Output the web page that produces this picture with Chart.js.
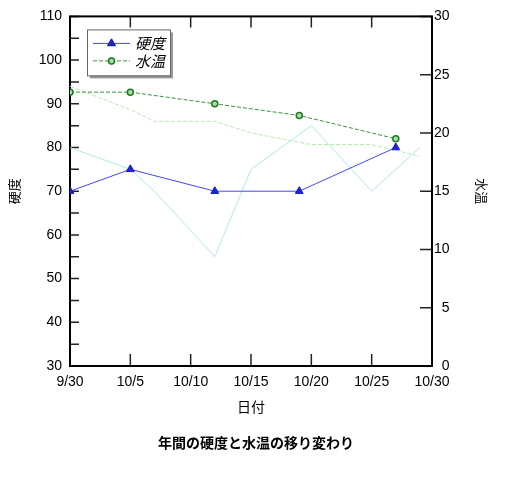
<!DOCTYPE html>
<html>
<head>
<meta charset="utf-8">
<script src="https://cdn.jsdelivr.net/npm/chart.js@4/dist/chart.umd.min.js"></script>
<style>
	body { margin: 0; background: #fff; }
	canvas { display: block; }
</style>
</head>
<body>
<canvas id="chartHardness" width="512" height="477"></canvas>
<script>
// values
var datesMain = ["9/30", "10/5", "10/12", "10/19", "10/27"];
var hardness = [70, 75, 70, 70, 80];
var waterTemp = [23.5, 23.5, 22.5, 21.5, 19.5];

var datesPrev = ["9/30", "10/5", "10/7", "10/12", "10/15", "10/20", "10/25", "10/29"];
var hardnessPrev = [80, 75, 70, 55, 75, 85, 70, 80];
var waterTempPrev = [24, 22, 21, 21, 20, 19, 19, 18];

var xTickLabels = ["9/30", "10/5", "10/10", "10/15", "10/20", "10/25", "10/30"];

var NUM_FONT = "'Liberation Sans', Arial, sans-serif";
var JP_FONT = "'Noto Sans CJK JP', sans-serif";

// days since 9/30
function dayOf(s){
	var p = s.split("/");
	var base = new Date(2000, 8, 30);
	var d = new Date(2000, parseInt(p[0]) - 1, parseInt(p[1]));
	return Math.round((d - base) / 86400000);
}

function toPoints(dates, values){
	var pts = [];
	for (var i = 0; i < dates.length; i++) {
		pts.push({x: dayOf(dates[i]), y: values[i]});
	}
	return pts;
}

// frame + inward tick marks
var framePlugin = {
	id: 'frame',
	beforeDatasetsDraw: function(chart){
		var ctx = chart.ctx, a = chart.chartArea, s = chart.scales;
		ctx.save();
		ctx.strokeStyle = "#222";
		ctx.lineWidth = 1.5;
		ctx.beginPath();
		s.x.ticks.forEach(function(t){
			var px = s.x.getPixelForValue(t.value);
			ctx.moveTo(px, a.bottom); ctx.lineTo(px, a.bottom - 12);
			ctx.moveTo(px, a.top); ctx.lineTo(px, a.top + 11);
		});
		s.y.ticks.forEach(function(t){
			var py = s.y.getPixelForValue(t.value);
			ctx.moveTo(a.left, py); ctx.lineTo(a.left + 9, py);
		});
		s.y2.ticks.forEach(function(t){
			var py = s.y2.getPixelForValue(t.value);
			ctx.moveTo(a.right, py); ctx.lineTo(a.right - 12, py);
		});
		ctx.stroke();
		ctx.strokeStyle = "#000";
		ctx.lineWidth = 2;
		ctx.strokeRect(a.left, a.top, a.right - a.left, a.bottom - a.top);
		ctx.restore();
	}
};

// legend box inside the plot, first two datasets only
var legendPlugin = {
	id: 'boxLegend',
	afterDraw: function(chart){
		var ctx = chart.ctx, a = chart.chartArea;
		var bx = a.left + 17, by = a.top + 13, bw = 83, bh = 46;
		ctx.save();
		ctx.fillStyle = "#999";
		ctx.fillRect(bx + 3, by + 3, bw, bh);
		ctx.fillStyle = "#fff";
		ctx.fillRect(bx, by, bw, bh);
		ctx.strokeStyle = "#666";
		ctx.lineWidth = 1;
		ctx.strokeRect(bx + 0.5, by + 0.5, bw, bh);
		for (var i = 0; i < 2; i++) {
			var ds = chart.data.datasets[i];
			var ry = by + 14 + i * 17.5;
			ctx.strokeStyle = ds.borderColor;
			ctx.lineWidth = 1;
			ctx.setLineDash(ds.borderDash || []);
			ctx.beginPath();
			ctx.moveTo(bx + 6, ry); ctx.lineTo(bx + 43, ry);
			ctx.stroke();
			ctx.setLineDash([]);
			Chart.helpers.drawPoint(ctx, {
				pointStyle: ds.pointStyle,
				radius: ds.pointRadius,
				borderWidth: ds.pointBorderWidth,
				rotation: 0
			}, bx + 24.5, ry);
			ctx.fillStyle = ds.pointBackgroundColor;
			ctx.strokeStyle = ds.pointBorderColor;
			ctx.lineWidth = ds.pointBorderWidth;
			ctx.fill();
			ctx.stroke();
			ctx.fillStyle = "#000";
			ctx.font = "italic 15px " + JP_FONT;
			ctx.textBaseline = "middle";
			ctx.fillText(ds.label, bx + 48, ry);
		}
		ctx.restore();
	}
};

var config = {
	type: 'line',
	data: {
		datasets: [
			{
				label: '硬度',
				data: toPoints(datesMain, hardness),
				yAxisID: 'y',
				borderColor: "#4646f0",
				borderWidth: 1,
				pointStyle: 'triangle',
				pointRadius: 4.5,
				pointBackgroundColor: "#2020ee",
				pointBorderColor: "#1a1ab0",
				pointBorderWidth: 1,
				tension: 0,
				order: 1
			},
			{
				label: '水温',
				data: toPoints(datesMain, waterTemp),
				yAxisID: 'y2',
				borderColor: "#3a963a",
				borderWidth: 1,
				borderDash: [4, 2],
				pointStyle: 'circle',
				pointRadius: 3,
				pointBackgroundColor: "#a8dca8",
				pointBorderColor: "#1f7a1f",
				pointBorderWidth: 1.5,
				tension: 0,
				order: 2
			},
			{
				label: '硬度(前年)',
				data: toPoints(datesPrev, hardnessPrev),
				yAxisID: 'y',
				borderColor: "#b2e8ee",
				borderWidth: 1,
				pointRadius: 0,
				tension: 0,
				order: 3
			},
			{
				label: '水温(前年)',
				data: toPoints(datesPrev, waterTempPrev),
				yAxisID: 'y2',
				borderColor: "#b6ebb0",
				borderWidth: 1,
				borderDash: [4, 2],
				pointRadius: 0,
				tension: 0,
				order: 4
			}
		]
	},
	options: {
		responsive: false,
		animation: false,
		layout: { padding: { top: 14, left: 0, right: 0, bottom: 0 } },
		plugins: {
			legend: { display: false },
			tooltip: { enabled: false },
			title: {
				display: true,
				position: 'bottom',
				text: '年間の硬度と水温の移り変わり',
				color: "#000",
				font: { family: JP_FONT, size: 14, weight: 'bold' },
				padding: { top: 0, bottom: 25.6 }
			}
		},
		scales: {
			x: {
				type: 'linear',
				min: 0,
				max: 30,
				grid: { display: false, drawTicks: false },
				border: { display: false },
				ticks: {
					stepSize: 5,
					autoSkip: false,
					maxRotation: 0,
					padding: 8,
					color: "#000",
					font: { family: NUM_FONT, size: 14 },
					callback: function(v){ return xTickLabels[v / 5]; }
				},
				title: {
					display: true,
					text: '日付',
					color: "#000",
					font: { family: JP_FONT, size: 14 },
					padding: { top: 0, bottom: 19.7 }
				},
				afterFit: function(scale){ scale.height = 68.6; }
			},
			y: {
				position: 'left',
				min: 30,
				max: 110,
				grid: { display: false, drawTicks: false },
				border: { display: false },
				ticks: {
					stepSize: 5,
					padding: 8,
					color: "#000",
					font: { family: NUM_FONT, size: 14 },
					callback: function(v){ return v % 10 == 0 ? v : ''; }
				},
				title: {
					display: true,
					text: '硬度',
					color: "#000",
					font: { family: JP_FONT, size: 13 },
					padding: { top: 6, bottom: 0 }
				},
				afterFit: function(scale){ scale.width = 70; }
			},
			y2: {
				position: 'right',
				min: 0,
				max: 30,
				grid: { display: false, drawTicks: false },
				border: { display: false },
				ticks: {
					stepSize: 5,
					padding: 2,
					color: "#000",
					font: { family: NUM_FONT, size: 14 },
					// one-digit labels pushed right so they line up with two-digit ones
					callback: function(v){ return v < 10 ? '\u2007' + v : '' + v; }
				},
				title: {
					display: true,
					text: '水温',
					color: "#000",
					font: { family: JP_FONT, size: 13 },
					padding: { top: 22, bottom: 0 }
				},
				afterFit: function(scale){ scale.width = 80; }
			}
		}
	},
	plugins: [framePlugin, legendPlugin]
};

var hardnessChart = new Chart(
	document.getElementById('chartHardness'),
	config
);
</script>
</body>
</html>
